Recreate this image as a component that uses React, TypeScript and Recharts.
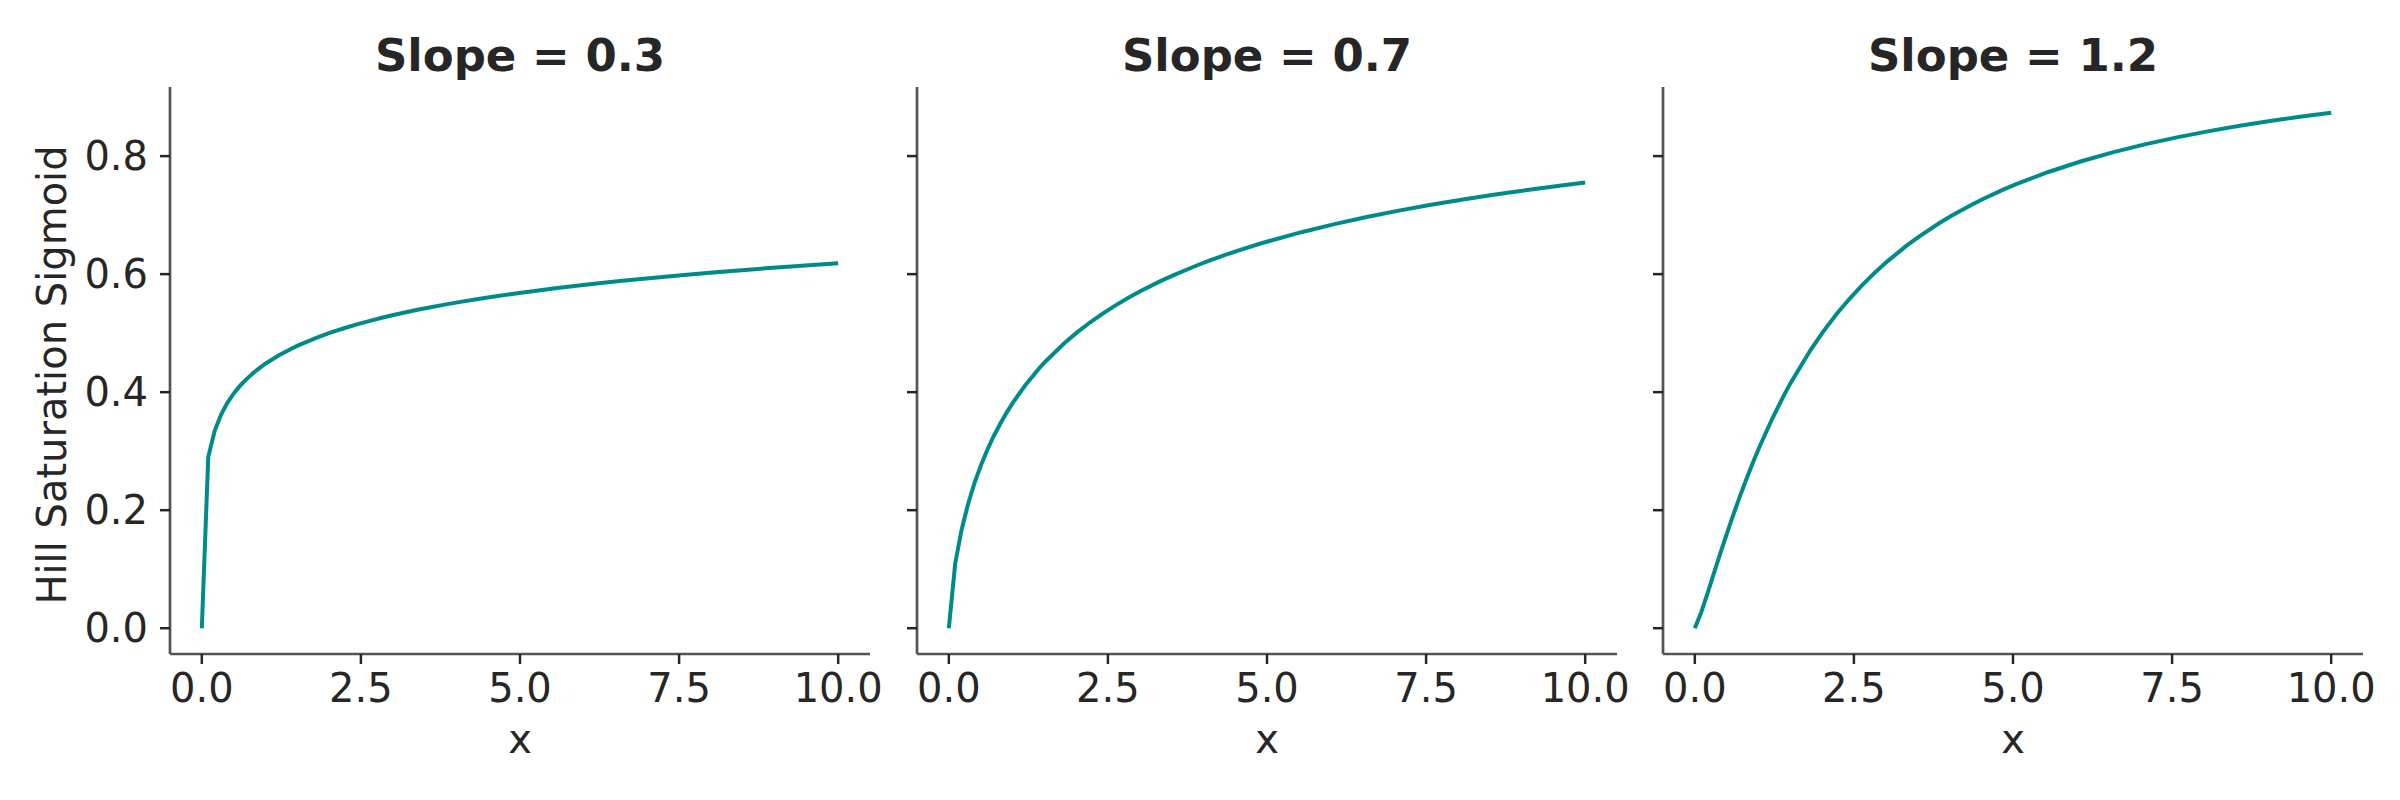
import React from "react";
import { Label, Line, LineChart, XAxis, YAxis } from "recharts";

// x sample points and curve values
const xValues = [
  0, 0.101, 0.202, 0.303, 0.404, 0.505, 0.606, 0.707, 0.808, 0.909, 1.01, 1.212, 1.414,
  1.515, 1.818, 2.02, 2.222, 2.424, 2.626, 2.828, 3.03, 3.333, 3.535, 3.838, 4.04, 4.343,
  4.545, 4.848, 5.05, 5.556, 6.061, 6.566, 7.071, 7.576, 8.081, 8.586, 9.091, 9.596, 10,
];
const slope03 = [
  0, 0.2899, 0.3345, 0.3621, 0.3823, 0.3982, 0.4114, 0.4226, 0.4324, 0.4411, 0.449, 0.4625,
  0.474, 0.4792, 0.4929, 0.5008, 0.5079, 0.5144, 0.5204, 0.526, 0.5311, 0.5383, 0.5426,
  0.5487, 0.5526, 0.5579, 0.5613, 0.566, 0.569, 0.576, 0.5824, 0.5882, 0.5936, 0.5986,
  0.6032, 0.6076, 0.6117, 0.6155, 0.6184,
];
const slope07 = [
  0, 0.1101, 0.1673, 0.2106, 0.2461, 0.2762, 0.3024, 0.3257, 0.3465, 0.3654, 0.3827, 0.4132,
  0.4397, 0.4516, 0.4833, 0.5017, 0.5184, 0.5336, 0.5475, 0.5604, 0.5722, 0.5885, 0.5984,
  0.6121, 0.6206, 0.6325, 0.6399, 0.6502, 0.6566, 0.6715, 0.6848, 0.6968, 0.7076, 0.7175,
  0.7266, 0.7349, 0.7426, 0.7498, 0.7552,
];
const slope12 = [
  0, 0.0271, 0.06, 0.0941, 0.1279, 0.1609, 0.1926, 0.2231, 0.2521, 0.2797, 0.3058, 0.3541,
  0.3975, 0.4174, 0.4714, 0.503, 0.5315, 0.5574, 0.581, 0.6025, 0.6221, 0.6486, 0.6645,
  0.6862, 0.6992, 0.7172, 0.7281, 0.7432, 0.7524, 0.7731, 0.7909, 0.8064, 0.8198, 0.8318,
  0.8423, 0.8517, 0.8602, 0.8678, 0.8734,
];

const panelTitles = ["Slope = 0.3", "Slope = 0.7", "Slope = 1.2"];
const panelSeries = [slope03, slope07, slope12];

const xTicks = [0, 2.5, 5, 7.5, 10];
const yTicks = [0, 0.2, 0.4, 0.6, 0.8];
const xDomain = [-0.5, 10.5];
const yDomain = [-0.0437, 0.9171];

const FONT = "DejaVu Sans";
const TEXT = "#262626";
const SPINE = "#555555";
const TEAL = "#008b8b";

const Y_AXIS_W = 170;
const PLOT_W = 700;
const CHART_W = 886;
const CHART_H = 800;
const panelLefts = [0, 746.7, 1492.7];

const tickStyle = { fill: TEXT, fontSize: 40, fontFamily: FONT };

const Panel = ({ index }: { index: number }) => {
  const data = xValues.map((x, i) => ({ x, y: panelSeries[index][i] }));
  const cx = Y_AXIS_W + PLOT_W / 2;
  return (
    <div style={{ position: "absolute", left: panelLefts[index], top: 0 }}>
      <LineChart
        width={CHART_W}
        height={CHART_H}
        data={data}
        margin={{ top: 87, right: 16, bottom: 86, left: 0 }}
      >
        <XAxis
          dataKey="x"
          type="number"
          domain={xDomain}
          ticks={xTicks}
          interval={0}
          allowDataOverflow
          height={60}
          tickFormatter={(v: number) => v.toFixed(1)}
          tick={tickStyle}
          tickSize={10}
          tickMargin={10}
          axisLine={{ stroke: SPINE, strokeWidth: 2.7 }}
          tickLine={{ stroke: TEXT, strokeWidth: 2.5 }}
        >
          <Label
            value="x"
            content={() => (
              <text x={cx} y={753} textAnchor="middle" fill={TEXT} fontSize={40} fontFamily={FONT}>
                x
              </text>
            )}
          />
          <Label
            value={panelTitles[index]}
            content={() => (
              <text
                x={cx}
                y={70.7}
                textAnchor="middle"
                fill={TEXT}
                fontSize={45}
                fontWeight="bold"
                fontFamily={FONT}
              >
                {panelTitles[index]}
              </text>
            )}
          />
        </XAxis>
        <YAxis
          type="number"
          domain={yDomain}
          ticks={yTicks}
          interval={0}
          allowDataOverflow
          width={Y_AXIS_W}
          tickFormatter={(v: number) => (index === 0 ? v.toFixed(1) : "")}
          tick={tickStyle}
          tickSize={10}
          tickMargin={12}
          axisLine={{ stroke: SPINE, strokeWidth: 2.7 }}
          tickLine={{ stroke: TEXT, strokeWidth: 2.5 }}
        >
          {index === 0 && (
            <Label
              value="Hill Saturation Sigmoid"
              content={() => (
                <text
                  x={66}
                  y={375}
                  transform="rotate(-90, 66, 375)"
                  textAnchor="middle"
                  fill={TEXT}
                  fontSize={40}
                  fontFamily={FONT}
                >
                  Hill Saturation Sigmoid
                </text>
              )}
            />
          )}
        </YAxis>
        <Line
          dataKey="y"
          type="linear"
          stroke={TEAL}
          strokeWidth={4}
          dot={false}
          activeDot={false}
          isAnimationActive={false}
        />
      </LineChart>
    </div>
  );
}

export default function App() {
  return (
    <div
      style={{
        position: "absolute",
        left: 0,
        top: 0,
        width: 2400,
        height: 800,
        background: "#ffffff",
      }}
    >
      {panelTitles.map((_, i) => (
        <Panel key={i} index={i} />
      ))}
    </div>
  );
}
